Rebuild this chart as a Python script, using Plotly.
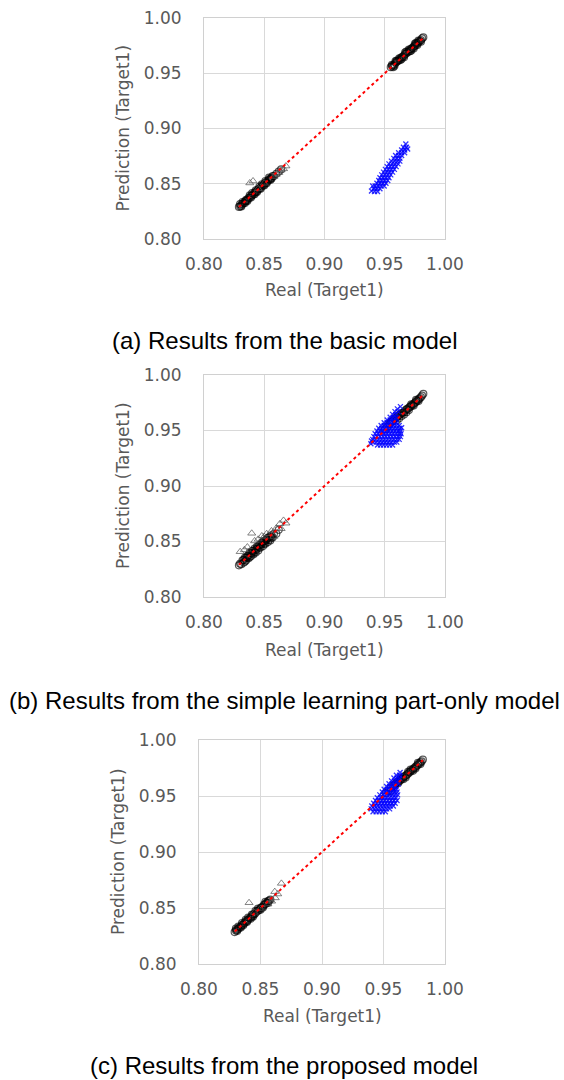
import plotly.graph_objects as go

# ---------------- data ----------------
tick_vals = [0.80, 0.85, 0.90, 0.95, 1.00]
tick_text = ["0.80", "0.85", "0.90", "0.95", "1.00"]
diag_line = [0.829, 0.982]

captions = ["(a) Results from the basic model",
            "(b) Results from the simple learning part-only model",
            "(c) Results from the proposed model"]
x_title = "Real (Target1)"
y_title = "Prediction (Target1)"

# (a) basic model: (real, prediction)
a_circles = [
    (0.829, 0.829), (0.830, 0.8295), (0.831, 0.8305), (0.832, 0.832), (0.833, 0.8325), (0.834, 0.834),
    (0.835, 0.8345), (0.836, 0.8355), (0.837, 0.837), (0.838, 0.8375), (0.839, 0.839), (0.840, 0.8395),
    (0.841, 0.8405), (0.842, 0.842), (0.843, 0.8425), (0.844, 0.8435), (0.845, 0.845), (0.846, 0.8455),
    (0.847, 0.8465), (0.848, 0.848), (0.849, 0.8485), (0.850, 0.8495), (0.851, 0.851), (0.852, 0.8515),
    (0.853, 0.8525), (0.854, 0.854), (0.855, 0.8545), (0.856, 0.8555), (0.857, 0.857), (0.858, 0.857),
    (0.860, 0.859), (0.862, 0.861), (0.864, 0.863),
    (0.832, 0.8335), (0.836, 0.8345), (0.840, 0.8415), (0.844, 0.8425), (0.848, 0.8495), (0.852, 0.8505),
    (0.830, 0.8315), (0.834, 0.8325), (0.838, 0.8395), (0.842, 0.8405), (0.846, 0.8475), (0.850, 0.8485),
    (0.854, 0.8555), (0.856, 0.8545), (0.831, 0.8295), (0.835, 0.8355), (0.839, 0.8375), (0.843, 0.844),
    (0.847, 0.8455), (0.851, 0.8525), (0.855, 0.8535),
    (0.955, 0.9555), (0.956, 0.9565), (0.957, 0.957), (0.958, 0.958), (0.959, 0.9595), (0.960, 0.9605),
    (0.961, 0.961), (0.962, 0.962), (0.963, 0.9635), (0.964, 0.9645), (0.965, 0.965), (0.966, 0.966),
    (0.967, 0.9675), (0.968, 0.968), (0.969, 0.969), (0.970, 0.970), (0.971, 0.9715), (0.972, 0.972),
    (0.973, 0.973), (0.974, 0.974), (0.975, 0.975), (0.976, 0.976), (0.977, 0.977), (0.978, 0.978),
    (0.979, 0.979), (0.980, 0.980), (0.981, 0.9815), (0.982, 0.9825),
    (0.960, 0.9615), (0.964, 0.963), (0.968, 0.9695), (0.972, 0.9705), (0.976, 0.9775),
    (0.956, 0.9575), (0.958, 0.9565), (0.962, 0.9635), (0.966, 0.9645), (0.970, 0.9715), (0.974, 0.9725),
    (0.978, 0.9795), (0.980, 0.9785), (0.957, 0.9555), (0.959, 0.961), (0.963, 0.962), (0.967, 0.969),
    (0.971, 0.970), (0.975, 0.9765), (0.977, 0.9755),
]
a_triangles = [
    (0.838, 0.8507), (0.8407, 0.8525), (0.858, 0.8565), (0.860, 0.8585), (0.862, 0.860),
    (0.864, 0.8625), (0.866, 0.8635), (0.868, 0.866), (0.845, 0.8455), (0.850, 0.8505),
]
a_blue = [
    (0.9415, 0.843), (0.944, 0.843),
    (0.941, 0.8455), (0.9435, 0.8455), (0.946, 0.8455),
    (0.942, 0.848), (0.9445, 0.848), (0.947, 0.848), (0.9495, 0.848),
    (0.9435, 0.8505), (0.946, 0.8505), (0.9485, 0.8505), (0.951, 0.8505),
    (0.945, 0.853), (0.9475, 0.853), (0.950, 0.853), (0.9525, 0.853),
    (0.946, 0.8555), (0.9485, 0.8555), (0.951, 0.8555), (0.9535, 0.8555),
    (0.9475, 0.858), (0.950, 0.858), (0.9525, 0.858), (0.955, 0.858),
    (0.949, 0.8605), (0.9515, 0.8605), (0.954, 0.8605), (0.9565, 0.8605),
    (0.9505, 0.863), (0.953, 0.863), (0.9555, 0.863), (0.958, 0.863),
    (0.952, 0.8655), (0.9545, 0.8655), (0.957, 0.8655), (0.9595, 0.8655),
    (0.9535, 0.868), (0.956, 0.868), (0.9585, 0.868), (0.961, 0.868),
    (0.9555, 0.8705), (0.958, 0.8705), (0.9605, 0.8705), (0.9625, 0.8705),
    (0.9575, 0.873), (0.960, 0.873), (0.9625, 0.873),
    (0.959, 0.8755), (0.9615, 0.8755), (0.964, 0.8755),
    (0.9615, 0.878), (0.964, 0.878), (0.9665, 0.878),
    (0.964, 0.8805), (0.9665, 0.8805),
    (0.9655, 0.883), (0.968, 0.883),
    (0.939, 0.8435), (0.9675, 0.886), (0.969, 0.8815), (0.940, 0.848),
]

# (b) simple learning part-only model
b_circles = [
    (0.829, 0.8285), (0.830, 0.830), (0.831, 0.8295), (0.832, 0.833), (0.833, 0.831), (0.834, 0.8355),
    (0.835, 0.833), (0.836, 0.837), (0.837, 0.835), (0.838, 0.840), (0.839, 0.837), (0.840, 0.8415),
    (0.841, 0.8385), (0.842, 0.8435), (0.843, 0.840), (0.844, 0.8455), (0.845, 0.842), (0.846, 0.847),
    (0.847, 0.8445), (0.848, 0.849), (0.849, 0.846), (0.850, 0.8505), (0.851, 0.848), (0.852, 0.8525),
    (0.853, 0.8495), (0.854, 0.854), (0.855, 0.851), (0.856, 0.8555), (0.857, 0.8535), (0.858, 0.857),
    (0.860, 0.857), (0.862, 0.8605), (0.834, 0.832), (0.838, 0.836), (0.842, 0.8405), (0.846, 0.8445),
    (0.850, 0.848), (0.854, 0.8515), (0.836, 0.8355), (0.840, 0.8395), (0.844, 0.8435), (0.848, 0.8475),
    (0.852, 0.8515), (0.856, 0.8535),
    (0.833, 0.8335), (0.837, 0.8375), (0.841, 0.8415), (0.845, 0.8455), (0.849, 0.8495), (0.853, 0.853),
    (0.835, 0.8355), (0.839, 0.8395), (0.843, 0.8425), (0.847, 0.847), (0.851, 0.8505), (0.855, 0.8545),
    (0.950, 0.951), (0.952, 0.9535), (0.954, 0.956), (0.955, 0.9575), (0.956, 0.958), (0.957, 0.959),
    (0.958, 0.9605), (0.959, 0.961), (0.960, 0.962), (0.961, 0.963), (0.962, 0.964), (0.963, 0.9645),
    (0.964, 0.9655), (0.965, 0.966), (0.966, 0.9665), (0.967, 0.968), (0.968, 0.969), (0.969, 0.9695),
    (0.970, 0.9705), (0.971, 0.9715), (0.972, 0.972), (0.973, 0.973), (0.974, 0.974), (0.975, 0.975),
    (0.976, 0.976), (0.977, 0.977), (0.978, 0.978), (0.979, 0.979), (0.980, 0.980), (0.981, 0.9815),
    (0.982, 0.983), (0.960, 0.959), (0.962, 0.961), (0.964, 0.963), (0.966, 0.9645), (0.968, 0.9665),
    (0.970, 0.9685), (0.972, 0.9735), (0.974, 0.9725), (0.976, 0.9775), (0.978, 0.9765),
]
b_triangles = [
    (0.8396, 0.8574), (0.830, 0.8408), (0.8335, 0.8425), (0.836, 0.845), (0.842, 0.8505), (0.848, 0.855),
    (0.852, 0.857), (0.856, 0.8595), (0.860, 0.862), (0.863, 0.866), (0.866, 0.869), (0.868, 0.8665),
    (0.858, 0.8545), (0.845, 0.852), (0.850, 0.8545), (0.864, 0.8615),
]
b_blue = [
    (0.944, 0.937), (0.9465, 0.937), (0.949, 0.937), (0.9515, 0.937), (0.954, 0.937), (0.9565, 0.937),
    (0.9405, 0.9395), (0.943, 0.9395), (0.9455, 0.9395), (0.948, 0.9395), (0.9505, 0.9395), (0.953, 0.9395),
    (0.9555, 0.9395), (0.958, 0.9395), (0.960, 0.9395),
    (0.940, 0.942), (0.9425, 0.942), (0.945, 0.942), (0.9475, 0.942), (0.950, 0.942), (0.9525, 0.942),
    (0.955, 0.942), (0.9575, 0.942), (0.960, 0.942), (0.962, 0.942),
    (0.941, 0.9445), (0.9435, 0.9445), (0.946, 0.9445), (0.9485, 0.9445), (0.951, 0.9445), (0.9535, 0.9445),
    (0.956, 0.9445), (0.9585, 0.9445), (0.961, 0.9445), (0.963, 0.9445),
    (0.942, 0.947), (0.9445, 0.947), (0.947, 0.947), (0.9495, 0.947), (0.952, 0.947), (0.9545, 0.947),
    (0.957, 0.947), (0.9595, 0.947), (0.962, 0.947), (0.9635, 0.947),
    (0.9435, 0.9495), (0.946, 0.9495), (0.9485, 0.9495), (0.951, 0.9495), (0.9535, 0.9495), (0.956, 0.9495),
    (0.9585, 0.9495), (0.961, 0.9495), (0.963, 0.9495),
    (0.945, 0.952), (0.9475, 0.952), (0.950, 0.952), (0.9525, 0.952), (0.955, 0.952), (0.9575, 0.952),
    (0.960, 0.952), (0.9625, 0.952),
    (0.947, 0.9545), (0.9495, 0.9545), (0.952, 0.9545), (0.9545, 0.9545), (0.957, 0.9545), (0.9595, 0.9545),
    (0.962, 0.9545),
    (0.9495, 0.957), (0.952, 0.957), (0.9545, 0.957), (0.957, 0.957), (0.9595, 0.957),
    (0.952, 0.9595), (0.9545, 0.9595), (0.957, 0.9595), (0.9595, 0.9595),
    (0.9545, 0.962), (0.957, 0.962), (0.9595, 0.962),
    (0.9565, 0.9645), (0.959, 0.9645),
    (0.9585, 0.967), (0.961, 0.967),
    (0.9605, 0.9695),
    (0.939, 0.9405), (0.9385, 0.938), (0.964, 0.9525), (0.963, 0.9715),
]

# (c) proposed model
c_circles = [
    (0.829, 0.8285), (0.830, 0.830), (0.831, 0.8305), (0.832, 0.8315), (0.833, 0.833), (0.834, 0.8335),
    (0.835, 0.835), (0.836, 0.8355), (0.837, 0.8365), (0.838, 0.838), (0.839, 0.8385), (0.840, 0.8395),
    (0.841, 0.841), (0.842, 0.8415), (0.843, 0.8425), (0.844, 0.844), (0.845, 0.8445), (0.846, 0.8455),
    (0.847, 0.847), (0.848, 0.8475), (0.849, 0.8485), (0.850, 0.850), (0.851, 0.8505), (0.852, 0.8515),
    (0.853, 0.853), (0.854, 0.8535), (0.855, 0.8545), (0.856, 0.856), (0.857, 0.8565), (0.858, 0.8575),
    (0.832, 0.8335), (0.836, 0.8345), (0.840, 0.8415), (0.844, 0.8425), (0.848, 0.8495), (0.852, 0.8505),
    (0.830, 0.8315), (0.834, 0.8325), (0.838, 0.8395), (0.842, 0.8405), (0.846, 0.8475), (0.850, 0.8485),
    (0.854, 0.8555), (0.856, 0.8545), (0.831, 0.8295), (0.835, 0.8365), (0.839, 0.8375), (0.843, 0.844),
    (0.956, 0.9545),
    (0.952, 0.9525), (0.954, 0.9545), (0.956, 0.957), (0.958, 0.959), (0.959, 0.960), (0.960, 0.961),
    (0.961, 0.962), (0.962, 0.963), (0.963, 0.9635), (0.964, 0.9645), (0.965, 0.9655), (0.966, 0.9665),
    (0.967, 0.9675), (0.968, 0.968), (0.969, 0.969), (0.970, 0.970), (0.971, 0.971), (0.972, 0.972),
    (0.973, 0.973), (0.974, 0.974), (0.975, 0.975), (0.976, 0.976), (0.977, 0.977), (0.978, 0.978),
    (0.979, 0.979), (0.980, 0.980), (0.981, 0.981), (0.982, 0.9825),
    (0.962, 0.9615), (0.966, 0.965), (0.970, 0.9715), (0.974, 0.9725),
    (0.964, 0.966), (0.968, 0.9665), (0.972, 0.9735), (0.976, 0.9745), (0.978, 0.9795), (0.980, 0.9785),
]
c_triangles = [
    (0.8407, 0.8547), (0.8616, 0.8646), (0.867, 0.872), (0.859, 0.856), (0.862, 0.859),
    (0.864, 0.8625), (0.856, 0.8535), (0.845, 0.846), (0.850, 0.8495),
]
c_blue = [
    (0.9415, 0.936), (0.944, 0.936), (0.9465, 0.936), (0.949, 0.936), (0.9515, 0.936),
    (0.940, 0.9385), (0.9425, 0.9385), (0.945, 0.9385), (0.9475, 0.9385), (0.950, 0.9385), (0.9525, 0.9385),
    (0.955, 0.9385),
    (0.9405, 0.941), (0.943, 0.941), (0.9455, 0.941), (0.948, 0.941), (0.9505, 0.941), (0.953, 0.941),
    (0.9555, 0.941), (0.958, 0.941),
    (0.942, 0.9435), (0.9445, 0.9435), (0.947, 0.9435), (0.9495, 0.9435), (0.952, 0.9435), (0.9545, 0.9435),
    (0.957, 0.9435), (0.9595, 0.9435),
    (0.9435, 0.946), (0.946, 0.946), (0.9485, 0.946), (0.951, 0.946), (0.9535, 0.946), (0.956, 0.946),
    (0.9585, 0.946), (0.961, 0.946),
    (0.945, 0.9485), (0.9475, 0.9485), (0.950, 0.9485), (0.9525, 0.9485), (0.955, 0.9485), (0.9575, 0.9485),
    (0.960, 0.9485),
    (0.947, 0.951), (0.9495, 0.951), (0.952, 0.951), (0.9545, 0.951), (0.957, 0.951), (0.9595, 0.951),
    (0.9615, 0.951),
    (0.949, 0.9535), (0.9515, 0.9535), (0.954, 0.9535), (0.9565, 0.9535), (0.959, 0.9535), (0.961, 0.9535),
    (0.9505, 0.956), (0.953, 0.956), (0.9555, 0.956), (0.958, 0.956), (0.9605, 0.956),
    (0.9525, 0.9585), (0.955, 0.9585), (0.9575, 0.9585), (0.960, 0.9585),
    (0.9545, 0.961), (0.957, 0.961), (0.9595, 0.961), (0.962, 0.961),
    (0.9565, 0.9635), (0.959, 0.9635), (0.9615, 0.9635),
    (0.9585, 0.966), (0.961, 0.966), (0.963, 0.966),
    (0.9605, 0.9685), (0.963, 0.9685),
    (0.9635, 0.971),
]

# ---------------- figure ----------------
W, H = 564, 1080
panels = [
    dict(circ=a_circles, tri=a_triangles, blue=a_blue, left=204, right=445, top=18, bottom=239,
         xt_y=290, yt_x=123, cap_y=340),
    dict(circ=b_circles, tri=b_triangles, blue=b_blue, left=204, right=445, top=375, bottom=597,
         xt_y=650, yt_x=123, cap_y=700),
    dict(circ=c_circles, tri=c_triangles, blue=c_blue, left=199, right=445, top=740, bottom=964,
         xt_y=1016, yt_x=118, cap_y=1065),
]

fig = go.Figure()
annotations = []
tick_font = dict(family="DejaVu Sans", size=17, color="#595959")

for i, p in enumerate(panels):
    n = "" if i == 0 else str(i + 1)
    xa, ya = "x" + n, "y" + n
    fig.add_trace(go.Scatter(
        x=[q[0] for q in p["circ"]], y=[q[1] for q in p["circ"]], mode="markers",
        marker=dict(symbol="circle-open", size=7, color="rgba(0,0,0,0.65)", line=dict(width=1.2)),
        xaxis=xa, yaxis=ya, showlegend=False, hoverinfo="skip"))
    fig.add_trace(go.Scatter(
        x=[q[0] for q in p["tri"]], y=[q[1] for q in p["tri"]], mode="markers",
        marker=dict(symbol="triangle-up-open", size=7, color="rgba(80,80,80,0.7)", line=dict(width=1)),
        xaxis=xa, yaxis=ya, showlegend=False, hoverinfo="skip"))
    fig.add_trace(go.Scatter(
        x=[q[0] for q in p["blue"]], y=[q[1] for q in p["blue"]], mode="markers",
        marker=dict(symbol="x-thin", size=5, color="rgba(0,0,255,0.8)",
                    line=dict(width=1.3, color="rgba(0,0,255,0.8)")),
        xaxis=xa, yaxis=ya, showlegend=False, hoverinfo="skip"))
    fig.add_trace(go.Scatter(
        x=diag_line, y=diag_line, mode="lines",
        line=dict(color="red", width=2, dash="dot"),
        xaxis=xa, yaxis=ya, showlegend=False, hoverinfo="skip"))

    common = dict(range=[0.80, 1.00], tickvals=tick_vals, ticktext=tick_text, showgrid=True,
                  gridcolor="#d9d9d9", gridwidth=1, showline=True, linecolor="#d0d0d0", linewidth=1,
                  mirror=True, zeroline=False, ticks="", tickfont=tick_font, fixedrange=True,
                  automargin=False)
    fig.update_layout(**{
        ("xaxis" + n): dict(common, domain=[p["left"] / W, p["right"] / W], anchor=ya,
                            ticklabelstandoff=10),
        ("yaxis" + n): dict(common, domain=[1 - p["bottom"] / H, 1 - p["top"] / H], anchor=xa,
                            ticklabelstandoff=18),
    })

    annotations.append(dict(text=x_title, xref="paper", yref="paper",
                            x=(p["left"] + p["right"]) / 2 / W, y=1 - p["xt_y"] / H,
                            xanchor="center", yanchor="middle", showarrow=False,
                            font=dict(family="DejaVu Sans", size=17, color="#595959")))
    annotations.append(dict(text=y_title, xref="paper", yref="paper", textangle=-90,
                            x=p["yt_x"] / W, y=1 - (p["top"] + p["bottom"]) / 2 / H,
                            xanchor="center", yanchor="middle", showarrow=False,
                            font=dict(family="DejaVu Sans", size=17, color="#595959")))
    annotations.append(dict(text=captions[i], xref="paper", yref="paper",
                            x=284 / W, y=1 - p["cap_y"] / H,
                            xanchor="center", yanchor="middle", showarrow=False,
                            font=dict(family="Liberation Sans", size=24, color="black")))

fig.update_layout(width=W, height=H, margin=dict(l=0, r=0, t=0, b=0, pad=0, autoexpand=False),
                  plot_bgcolor="white", paper_bgcolor="white", annotations=annotations)

fig.write_html("out.html", config={"displayModeBar": False, "staticPlot": True},
               post_script="document.body.style.margin='0px';document.body.style.padding='0px';"
                           "document.documentElement.style.overflow='hidden';")
